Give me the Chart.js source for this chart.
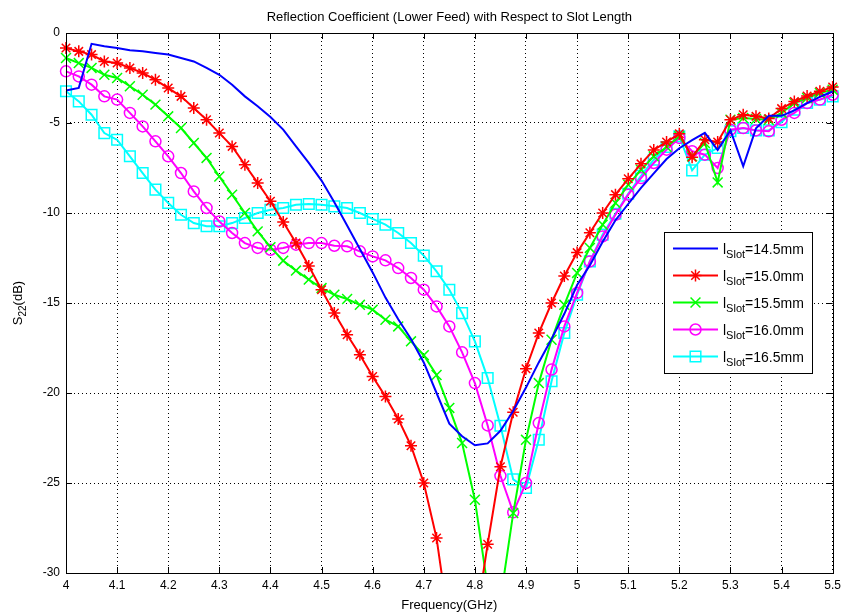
<!DOCTYPE html>
<html>
<head>
<meta charset="utf-8">
<title>Reflection Coefficient (Lower Feed)</title>
<script src="https://cdn.jsdelivr.net/npm/chart.js@4/dist/chart.umd.min.js"></script>
<style>
  html, body { margin: 0; padding: 0; background: #fff; }
  #s22Chart { display: block; }
</style>
</head>
<body>
<canvas id="s22Chart" width="846" height="616"></canvas>
<script>
// Frequency points (GHz)
const freq = [
  4.000, 4.025, 4.050, 4.075, 4.100, 4.125, 4.150, 4.175, 4.200, 4.225,
  4.250, 4.275, 4.300, 4.325, 4.350, 4.375, 4.400, 4.425, 4.450, 4.475,
  4.500, 4.525, 4.550, 4.575, 4.600, 4.625, 4.650, 4.675, 4.700, 4.725,
  4.750, 4.775, 4.800, 4.825, 4.850, 4.875, 4.900, 4.925, 4.950, 4.975,
  5.000, 5.025, 5.050, 5.075, 5.100, 5.125, 5.150, 5.175, 5.200, 5.225,
  5.250, 5.275, 5.300, 5.325, 5.350, 5.375, 5.400, 5.425, 5.450, 5.475,
  5.500
];

// S22 (dB) for each slot length
const s22_145 = [
  -3.2, -3.05, -0.6, -0.74, -0.83, -0.96, -1.02, -1.11, -1.2, -1.39,
  -1.58, -1.94, -2.32, -2.87, -3.52, -4.07, -4.67, -5.37, -6.3, -7.22,
  -8.2, -9.4, -10.7, -12.0, -13.3, -14.7, -15.9, -17.0, -18.3, -20.0,
  -21.7, -22.4, -22.9, -22.8, -22.1, -21.0, -19.7, -18.3, -17.0, -15.6,
  -14.0, -12.9, -11.6, -10.4, -9.5, -8.6, -7.8, -7.0, -6.4, -5.95,
  -5.55, -6.5, -5.4, -7.4, -5.3, -4.6, -4.6, -4.3, -3.9, -3.55,
  -3.25
];
const s22_150 = [
  -0.83, -1.02, -1.2, -1.58, -1.67, -1.94, -2.22, -2.6, -3.06, -3.52,
  -4.17, -4.82, -5.56, -6.3, -7.32, -8.33, -9.35, -10.5, -11.67, -12.95,
  -14.26, -15.56, -16.76, -17.87, -19.08, -20.2, -21.44, -22.93, -25.0, -28.06,
  -33.0, -35.0, -33.0, -28.4, -24.1, -21.07, -18.65, -16.67, -15.0, -13.5,
  -12.2, -11.1, -10.0, -8.98, -8.1, -7.27, -6.5, -6.05, -5.6, -6.9,
  -5.93, -6.05, -4.82, -4.54, -4.63, -4.75, -4.2, -3.8, -3.5, -3.24,
  -3.0
];
const s22_155 = [
  -1.39, -1.67, -1.94, -2.32, -2.5, -2.96, -3.43, -3.98, -4.63, -5.28,
  -6.11, -6.94, -7.97, -8.98, -10.0, -11.02, -11.9, -12.65, -13.2, -13.7,
  -14.17, -14.54, -14.78, -15.1, -15.37, -15.93, -16.3, -17.13, -17.9, -19.0,
  -20.83, -22.78, -25.93, -30.8, -31.5, -26.67, -22.6, -19.45, -17.04, -15.1,
  -13.33, -11.94, -10.65, -9.44, -8.43, -7.6, -6.85, -6.33, -5.74, -6.85,
  -6.11, -8.3, -4.82, -4.72, -4.78, -4.82, -4.44, -3.89, -3.61, -3.33,
  -3.15
];
const s22_160 = [
  -2.13, -2.41, -2.87, -3.52, -3.7, -4.44, -5.19, -6.02, -6.85, -7.78,
  -8.8, -9.72, -10.47, -11.11, -11.67, -11.94, -12.04, -11.94, -11.76, -11.67,
  -11.67, -11.82, -11.85, -12.13, -12.41, -12.63, -13.06, -13.61, -14.26, -15.19,
  -16.3, -17.74, -19.45, -21.8, -24.6, -26.63, -25.0, -21.67, -18.7, -16.3,
  -14.44, -12.69, -11.3, -10.1, -8.98, -8.06, -7.22, -6.48, -5.83, -6.57,
  -6.76, -7.5, -5.37, -5.28, -5.41, -5.46, -4.82, -4.44, -3.89, -3.7,
  -3.43
];
const s22_165 = [
  -3.24, -3.8, -4.54, -5.56, -5.93, -6.85, -7.78, -8.7, -9.44, -10.1,
  -10.56, -10.74, -10.74, -10.56, -10.28, -10.0, -9.82, -9.72, -9.54, -9.5,
  -9.54, -9.63, -9.72, -10.0, -10.33, -10.65, -11.11, -11.67, -12.37, -13.24,
  -14.26, -15.56, -17.13, -19.17, -21.82, -24.8, -25.28, -22.6, -19.35, -16.67,
  -14.54, -12.69, -11.2, -10.04, -8.93, -7.93, -7.04, -6.33, -5.74, -7.63,
  -6.76, -6.39, -5.46, -5.28, -5.41, -5.41, -4.96, -4.26, -3.89, -3.7,
  -3.52
];

const slotLengths = ['14.5', '15.0', '15.5', '16.0', '16.5'];
const xTicks = [4, 4.1, 4.2, 4.3, 4.4, 4.5, 4.6, 4.7, 4.8, 4.9, 5, 5.1, 5.2, 5.3, 5.4, 5.5];
const yTicks = [0, -5, -10, -15, -20, -25, -30];

const FONT = '"Liberation Sans", Arial, Helvetica, sans-serif';

function toPoints(values) {
    return freq.map((f, i) => ({ x: f, y: values[i] }));
}

// one entry per slot length: colour and marker like the MATLAB plot
const seriesStyles = [
    { data: s22_145, color: '#0000ff', marker: false,      radius: 0 },
    { data: s22_150, color: '#ff0000', marker: 'star',     radius: 6 },
    { data: s22_155, color: '#00ff00', marker: 'crossRot', radius: 7 },
    { data: s22_160, color: '#ff00ff', marker: 'circle',   radius: 5.5 },
    { data: s22_165, color: '#00ffff', marker: 'rect',     radius: 7.5 }
];

const datasets = seriesStyles.map((s, i) => ({
    label: 'lSlot=' + slotLengths[i] + 'mm',
    data: toPoints(s.data),
    borderColor: s.color,
    backgroundColor: 'rgba(0,0,0,0)',
    borderWidth: 2,
    tension: 0,
    pointStyle: s.marker,
    pointRadius: s.radius,
    pointHoverRadius: s.radius,
    pointBorderWidth: 1.5,
    pointBorderColor: s.color,
    pointBackgroundColor: 'rgba(0,0,0,0)',
    clip: { left: 10, right: 10, top: 10, bottom: 0 }
}));

// text with a subscript part: [main, sub, rest]
function drawSubText(ctx, parts, x, y, size, align) {
    const subSize = Math.round(size * 0.75);
    ctx.font = size + 'px ' + FONT;
    const w0 = ctx.measureText(parts[0]).width;
    const w2 = ctx.measureText(parts[2]).width;
    ctx.font = subSize + 'px ' + FONT;
    const w1 = ctx.measureText(parts[1]).width;
    let start = x;
    if (align === 'center') start = x - (w0 + w1 + w2) / 2;
    ctx.textAlign = 'left';
    ctx.textBaseline = 'alphabetic';
    ctx.font = size + 'px ' + FONT;
    ctx.fillText(parts[0], start, y);
    ctx.font = subSize + 'px ' + FONT;
    ctx.fillText(parts[1], start + w0, y + size * 0.3);
    ctx.font = size + 'px ' + FONT;
    ctx.fillText(parts[2], start + w0 + w1, y);
}

const matlabAxes = {
    id: 'matlabAxes',
    afterDraw(chart) {
        const ctx = chart.ctx;
        const a = chart.chartArea;
        const xs = chart.scales.x, ys = chart.scales.y;
        ctx.save();

        // box
        ctx.strokeStyle = '#000';
        ctx.lineWidth = 1;
        ctx.setLineDash([]);
        ctx.strokeRect(Math.round(a.left) + 0.5, Math.round(a.top) + 0.5,
            Math.round(a.right - a.left), Math.round(a.bottom - a.top));

        // inward tick marks on all four sides
        ctx.beginPath();
        xTicks.forEach(v => {
            const px = Math.round(xs.getPixelForValue(v)) + 0.5;
            ctx.moveTo(px, a.bottom); ctx.lineTo(px, a.bottom - 6);
            ctx.moveTo(px, a.top); ctx.lineTo(px, a.top + 6);
        });
        yTicks.forEach(v => {
            const py = Math.round(ys.getPixelForValue(v)) + 0.5;
            ctx.moveTo(a.left, py); ctx.lineTo(a.left + 6, py);
            ctx.moveTo(a.right, py); ctx.lineTo(a.right - 6, py);
        });
        ctx.stroke();

        // titles
        ctx.fillStyle = '#000';
        ctx.font = '13px ' + FONT;
        ctx.textAlign = 'center';
        ctx.textBaseline = 'alphabetic';
        const cx = (a.left + a.right) / 2;
        ctx.fillText('Reflection Coefficient (Lower Feed) with Respect to Slot Length', cx, 21);
        ctx.fillText('Frequency(GHz)', cx, 609);

        ctx.save();
        ctx.translate(22, (a.top + a.bottom) / 2);
        ctx.rotate(-Math.PI / 2);
        drawSubText(ctx, ['S', '22', '(dB)'], 0, 0, 13, 'center');
        ctx.restore();

        // legend
        const lx = 664.5, ly = 232.5, lw = 148, lh = 141;
        ctx.fillStyle = '#fff';
        ctx.fillRect(lx, ly, lw, lh);
        ctx.strokeStyle = '#000';
        ctx.lineWidth = 1;
        ctx.strokeRect(lx, ly, lw, lh);

        chart.data.datasets.forEach((ds, i) => {
            const y = 248.5 + i * 27;
            ctx.strokeStyle = ds.borderColor;
            ctx.lineWidth = 2;
            ctx.beginPath();
            ctx.moveTo(673, y);
            ctx.lineTo(718, y);
            ctx.stroke();
            if (ds.pointStyle && Chart.helpers && Chart.helpers.drawPoint) {
                ctx.lineWidth = ds.pointBorderWidth;
                ctx.fillStyle = 'rgba(0,0,0,0)';
                Chart.helpers.drawPoint(ctx, {
                    pointStyle: ds.pointStyle,
                    radius: ds.pointRadius,
                    rotation: 0,
                    borderWidth: ds.pointBorderWidth
                }, 695.5, y);
            }
            ctx.fillStyle = '#000';
            drawSubText(ctx, ['l', 'Slot', '=' + slotLengths[i] + 'mm'], 723, y + 5, 14, 'left');
        });

        ctx.restore();
    }
};

new Chart(document.getElementById('s22Chart'), {
    type: 'line',
    data: { datasets: datasets },
    options: {
        responsive: false,
        animation: false,
        events: [],
        layout: { padding: { left: 0, right: 12, top: 33, bottom: 0 } },
        plugins: {
            legend: { display: false },
            title: { display: false },
            tooltip: { enabled: false }
        },
        scales: {
            x: {
                type: 'linear',
                min: 4,
                max: 5.5,
                afterFit: s => { s.height = 43; },
                afterBuildTicks: s => { s.ticks = xTicks.map(v => ({ value: v })); },
                ticks: {
                    autoSkip: false,
                    maxRotation: 0,
                    padding: 5,
                    color: '#000',
                    font: { family: FONT, size: 12 },
                    callback: v => String(Math.round(v * 10) / 10)
                },
                grid: { color: '#000', lineWidth: 1, drawTicks: false },
                border: { display: false, dash: [1, 3] }
            },
            y: {
                type: 'linear',
                min: -30,
                max: 0,
                afterFit: s => { s.width = 66; },
                afterBuildTicks: s => { s.ticks = yTicks.map(v => ({ value: v })); },
                ticks: {
                    padding: 6,
                    color: '#000',
                    font: { family: FONT, size: 12 }
                },
                grid: { color: '#000', lineWidth: 1, drawTicks: false },
                border: { display: false, dash: [1, 3] }
            }
        }
    },
    plugins: [matlabAxes]
});
</script>
</body>
</html>
